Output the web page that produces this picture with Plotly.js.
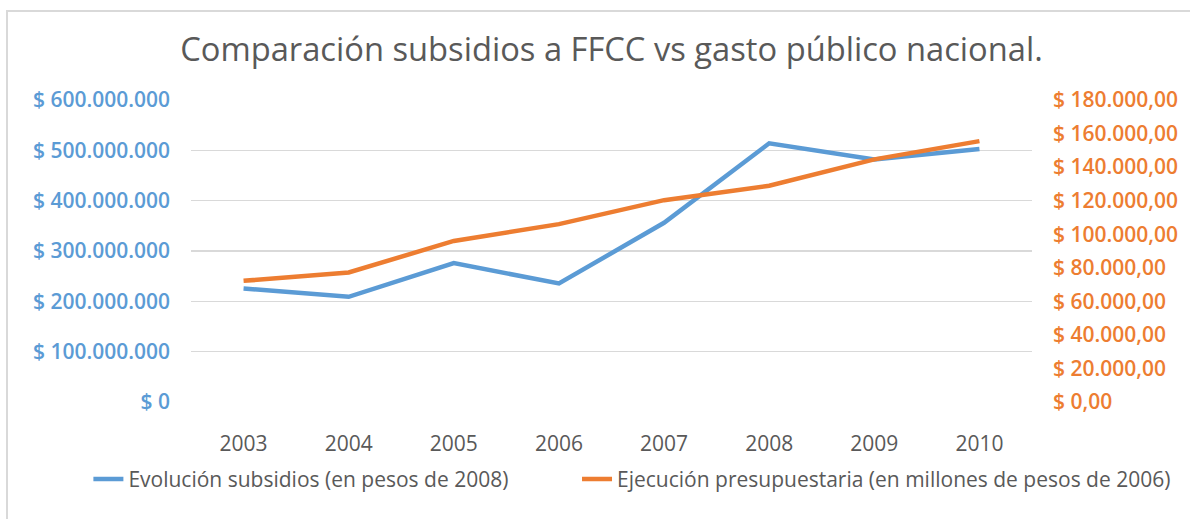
<!DOCTYPE html>
<html>
<head>
<meta charset="utf-8">
<script src="https://cdn.plot.ly/plotly-3.0.1.min.js"></script>
<style>
  body { margin: 0; background: #fff; }
  #grafico { position: absolute; left: 0; top: 0; width: 1190px; height: 519px; }
  #marco { position: absolute; left: 6px; top: 10px; width: 1300px; height: 600px;
           border-left: 2px solid #d9d9d9; border-top: 2px solid #d9d9d9; pointer-events: none; }
</style>
</head>
<body>
<div id="grafico"></div>
<div id="marco"></div>
<script>
// Datos
const anios = ['2003', '2004', '2005', '2006', '2007', '2008', '2009', '2010'];
const subsidios = [225500000, 209000000, 276000000, 235500000, 356000000, 514000000, 482000000, 502500000];
const ejecucion = [72200, 77200, 96000, 106000, 120300, 128900, 144600, 155500];

const nombreSubsidios = 'Evolución subsidios (en pesos de 2008)';
const nombreEjecucion = 'Ejecución presupuestaria (en millones de pesos de 2006)';

const ticksIzq = [0, 100000000, 200000000, 300000000, 400000000, 500000000, 600000000];
const textosIzq = ['$ 0', '$ 100.000.000', '$ 200.000.000', '$ 300.000.000', '$ 400.000.000', '$ 500.000.000', '$ 600.000.000'];
const ticksDer = [0, 20000, 40000, 60000, 80000, 100000, 120000, 140000, 160000, 180000];
const textosDer = ['$ 0,00', '$ 20.000,00', '$ 40.000,00', '$ 60.000,00', '$ 80.000,00', '$ 100.000,00',
                   '$ 120.000,00', '$ 140.000,00', '$ 160.000,00', '$ 180.000,00'];

const azul = '#5b9bd5';
const naranja = '#ed7d31';
const gris = '#595959';

let datos = [
  {
    x: anios, y: subsidios, type: 'scatter', mode: 'lines', name: nombreSubsidios,
    line: { color: azul, width: 4.5 }, yaxis: 'y', legend: 'legend'
  },
  {
    x: anios, y: ejecucion, type: 'scatter', mode: 'lines', name: nombreEjecucion,
    line: { color: naranja, width: 4.5 }, yaxis: 'y2', legend: 'legend2'
  }
];

// fuente comun de las leyendas
let fuenteLeyenda = { family: 'Open Sans, sans-serif', size: 21, color: gris };

let layout = {
  width: 1190,
  height: 519,
  margin: { l: 191, r: 158, t: 100, b: 117 },
  paper_bgcolor: '#fff',
  plot_bgcolor: '#fff',
  showlegend: true,
  title: {
    text: 'Comparación subsidios a FFCC vs gasto público nacional.',
    font: { family: 'Open Sans, sans-serif', size: 32.7, color: gris },
    x: 0.5, xref: 'paper', xanchor: 'center',
    y: 63, yref: 'container', yanchor: 'middle'
  },
  xaxis: {
    type: 'category',
    range: [-0.5, 7.5],
    showgrid: false,
    zeroline: false,
    showline: false,
    ticks: '',
    ticklabelstandoff: 27,
    tickfont: { family: 'Open Sans, sans-serif', size: 21, color: gris }
  },
  yaxis: {
    range: [0, 600000000],
    tickvals: ticksIzq,
    ticktext: textosIzq,
    showgrid: true,
    gridcolor: '#d9d9d9',
    gridwidth: 1.5,
    zeroline: false,
    ticks: '',
    ticklabelstandoff: 20,
    tickfont: { family: 'Open Sans, sans-serif', size: 21, color: azul, weight: 600 }
  },
  yaxis2: {
    overlaying: 'y',
    side: 'right',
    range: [0, 180000],
    tickvals: ticksDer,
    ticktext: textosDer,
    showgrid: false,
    zeroline: false,
    ticks: '',
    ticklabelstandoff: 20,
    tickfont: { family: 'Open Sans, sans-serif', size: 21, color: naranja, weight: 600 }
  },
  legend: {
    orientation: 'h',
    x: -0.122, xref: 'paper', xanchor: 'left',
    y: -0.256, yref: 'paper', yanchor: 'middle',
    font: fuenteLeyenda
  },
  legend2: {
    orientation: 'h',
    x: 0.459, xref: 'paper', xanchor: 'left',
    y: -0.256, yref: 'paper', yanchor: 'middle',
    font: fuenteLeyenda
  }
};

Plotly.newPlot('grafico', datos, layout, { displayModeBar: false, staticPlot: true });
</script>
</body>
</html>
